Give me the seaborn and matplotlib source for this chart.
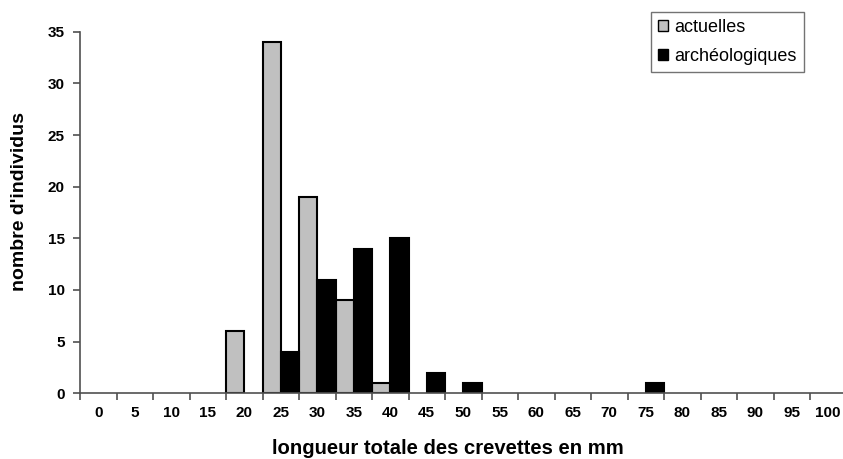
import matplotlib
matplotlib.use("Agg")
import matplotlib.pyplot as plt
import seaborn as sns
import pandas as pd
import numpy as np
from matplotlib.ticker import FixedLocator

categories = [str(v) for v in range(0, 105, 5)]
actuelles = [0, 0, 0, 0, 6, 34, 19, 9, 1, 0, 0, 0, 0, 0, 0, 0, 0, 0, 0, 0, 0]
archeologiques = [0, 0, 0, 0, 0, 4, 11, 14, 15, 2, 1, 0, 0, 0, 0, 1, 0, 0, 0, 0, 0]
series = ["actuelles", "archéologiques"]
colors = ["#c0c0c0", "#000000"]

sns.set_theme(style="white")
plt.rcParams['font.family'] = ['Liberation Sans', 'DejaVu Sans']
plt.rcParams['text.color'] = 'black'
plt.rcParams['xtick.color'] = 'black'
plt.rcParams['ytick.color'] = 'black'
plt.rcParams['axes.labelcolor'] = 'black'

rows = []
for c, a, b in zip(categories, actuelles, archeologiques):
    rows.append((c, series[0], a))
    rows.append((c, series[1], b))
df = pd.DataFrame(rows, columns=["cat", "serie", "val"])
df_plot = df[df["val"] > 0]

fig = plt.figure(figsize=(8.43, 4.59), dpi=100)
W, H = 843, 459
ax = fig.add_axes([80 / W, (H - 393.3) / H, 21 * 36.5 / W, (393.3 - 31.7) / H])

sns.barplot(data=df_plot, x="cat", y="val", hue="serie", order=categories,
            hue_order=series, palette=colors, width=1.0, dodge=True,
            edgecolor="black", linewidth=1.5, ax=ax, legend=True)

ax.set_xlim(-0.5, len(categories) - 0.5)
ax.set_ylim(0, 35)
ax.set_yticks(range(0, 36, 5))
ax.set_yticklabels([str(v) for v in range(0, 36, 5)], fontsize=11, fontweight="bold", color="black")
ax.set_xticks(range(len(categories)))
ax.set_xticklabels(categories, fontsize=11, fontweight="bold", color="black")
ax.xaxis.set_minor_locator(FixedLocator(np.arange(-0.5, len(categories), 1.0)))
ax.tick_params(axis="x", which="major", length=0, pad=9, bottom=True)
ax.tick_params(axis="x", which="minor", length=5, width=1.2, color="#505050",
               direction="out", bottom=True)
ax.tick_params(axis="y", which="major", length=5, width=1.2, color="#505050",
               direction="out", pad=6, left=True)
for s in ["top", "right"]:
    ax.spines[s].set_visible(False)
for s in ["left", "bottom"]:
    ax.spines[s].set_color("#505050")
    ax.spines[s].set_linewidth(1.2)
ax.grid(False)

ax.set_xlabel("")
ax.set_ylabel("")
fig.text(448 / W, 1 - 448 / H, "longueur totale des crevettes en mm", ha="center", va="center",
         fontsize=14.6, fontweight="bold", color="black")
fig.text(20 / W, 1 - 202 / H, "nombre d'individus", ha="center", va="center", rotation=90,
         fontsize=14, fontweight="bold", color="black")

leg = ax.legend(loc="upper left", bbox_to_anchor=(651 / W, 1 - 12 / H), bbox_transform=fig.transFigure,
                frameon=True, fancybox=False, edgecolor="#505050", fontsize=13,
                handlelength=0.55, handleheight=0.55, handletextpad=0.35, labelspacing=0.65,
                borderpad=0.4, borderaxespad=0)
leg.get_frame().set_linewidth(1.0)
for t in leg.get_texts():
    t.set_color("black")
for h in leg.legend_handles:
    h.set_linewidth(1.0)

fig.savefig("out.png", dpi=100)
